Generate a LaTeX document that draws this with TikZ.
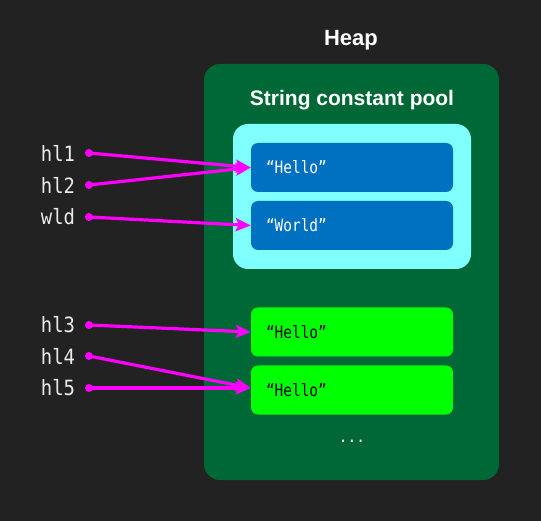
\documentclass[tikz,border=0pt]{standalone}
\usepackage{fontspec}
\setmainfont{Liberation Sans}
\newfontfamily\codefont[FakeStretch=0.9]{DejaVu Sans Mono}
\newfontfamily\strfont[FakeStretch=0.85]{DejaVu Sans Mono}
\usetikzlibrary{arrows.meta,positioning}
\definecolor{bgdark}{HTML}{222222}
\definecolor{heapgreen}{HTML}{006837}
\definecolor{poolcyan}{HTML}{80FFFF}
\definecolor{strblue}{HTML}{0070C0}
\definecolor{strgreen}{HTML}{00FF00}
\definecolor{refpink}{HTML}{FF00FF}
\tikzset{
  >=Stealth,
  title/.style={font=\bfseries\fontsize{21}{25}\selectfont, text=white, inner sep=0pt},
  var/.style={font=\codefont\fontsize{21}{25}\selectfont, text=white!92!black, inner sep=0pt},
  strbox/.style={rectangle, rounded corners=7pt, minimum width=202pt, minimum height=49pt,
    inner xsep=15pt, text width=172pt, align=left, font=\strfont\fontsize{17}{20}\selectfont},
  refdot/.style={circle, fill=refpink, inner sep=0pt, minimum size=8pt},
  ref/.style={-{Stealth[length=15pt,width=13pt,inset=3pt]}, draw=refpink, line width=3.2pt}
}
\begin{document}
\begin{tikzpicture}[x=1pt, y=-1pt]
  \fill[bgdark] (0,0) rectangle (541,521);

  % heap and string pool
  \node[rectangle, rounded corners=16pt, fill=heapgreen, minimum width=295pt, minimum height=416pt] (heap) at (351.5,272) {};
  \node[title, font=\bfseries\fontsize{22}{26}\selectfont] (heaptitle) at (351,40) {Heap};
  \node[title] (pooltitle) at (352,100) {String constant pool};
  \node[rectangle, rounded corners=15pt, fill=poolcyan, minimum width=238pt, minimum height=145pt] (pool) at (352,196.5) {};

  \node[strbox, fill=strblue, text=white] (hello1) at (352,167.5) {“Hello”};
  \node[strbox, fill=strblue, text=white] (world) at (352,225.5) {“World”};
  \node[strbox, fill=strgreen, text=black] (hello2) at (352,332) {“Hello”};
  \node[strbox, fill=strgreen, text=black] (hello3) at (352,390) {“Hello”};
  \node[text=white, inner sep=0pt, font=\codefont\fontsize{16}{18}\selectfont] (more) at (352,441) {...};

  % variables
  \foreach \v/\y in {hl1/153, hl2/185, wld/217, hl3/325, hl4/356, hl5/388} {
    \node[var] (\v) at (58,\y) {\v};
    \node[refdot] (\v dot) at (89,\y) {};
  }

  % references
  \draw[ref] (hl1dot.center) -- (hello1.west);
  \draw[ref] (hl2dot.center) -- (hello1.west);
  \draw[ref] (wlddot.center) -- (world.west);
  \draw[ref] (hl3dot.center) -- (hello2.west);
  \draw[ref] (hl4dot.center) -- ([yshift=2pt]hello3.west);
  \draw[ref] (hl5dot.center) -- ([yshift=2pt]hello3.west);
\end{tikzpicture}
\end{document}
